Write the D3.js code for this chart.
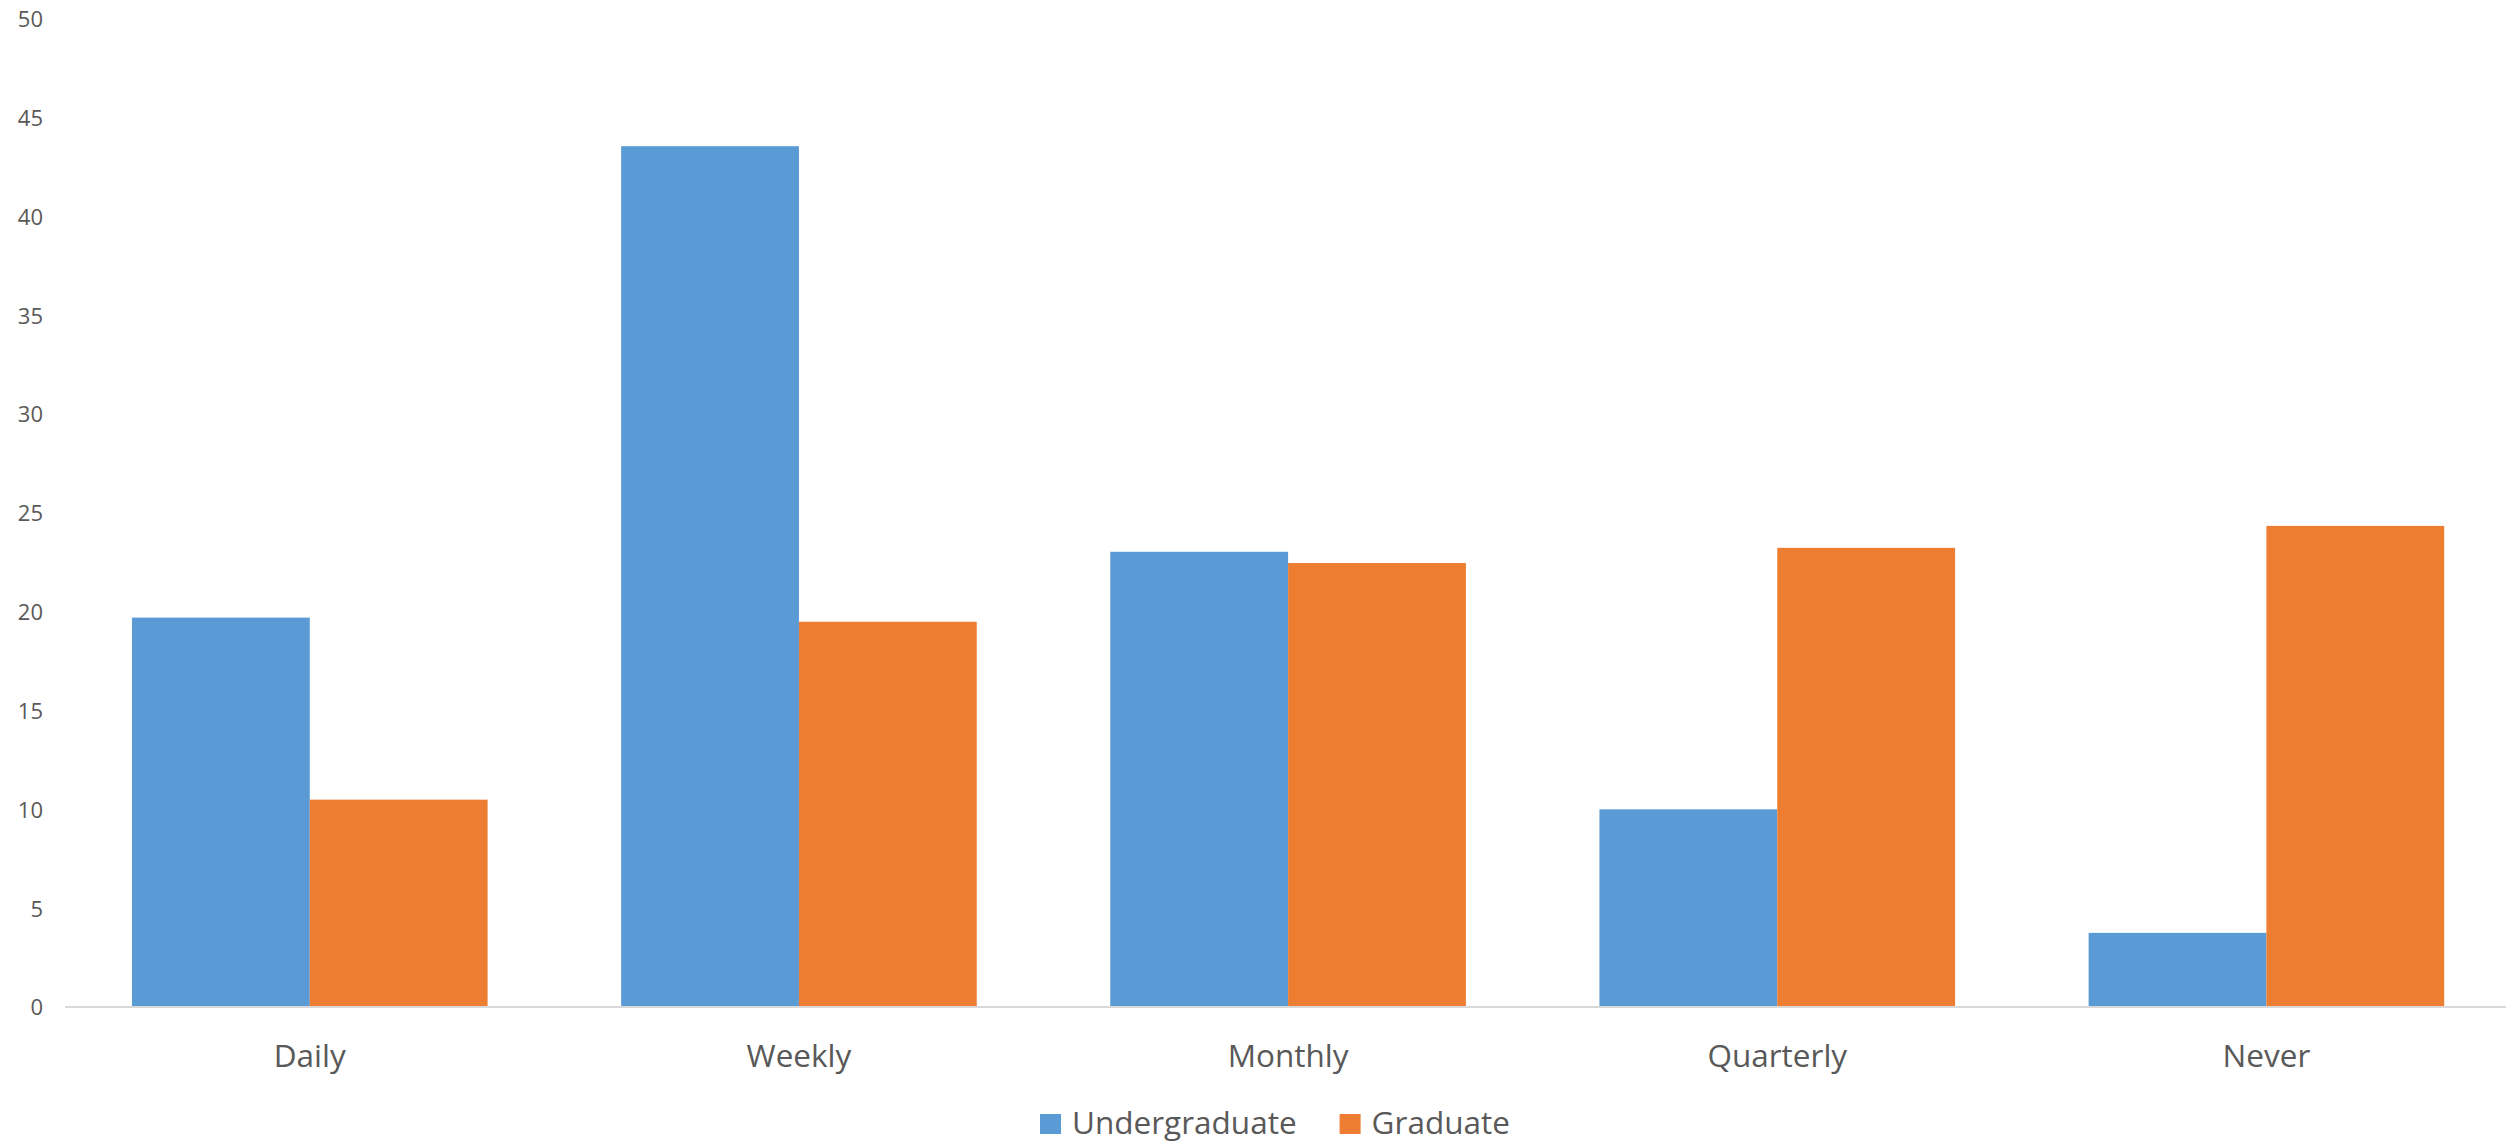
<!DOCTYPE html>
<html>
<head>
<meta charset="utf-8">
<script src="https://cdn.jsdelivr.net/npm/d3@7"></script>
<style>
  html, body { margin: 0; padding: 0; background: #ffffff; }
  svg { display: block; }
  text { font-family: "Open Sans", Lato, sans-serif; fill: #595959; }
</style>
</head>
<body>
<svg id="chart" width="2506" height="1142"></svg>
<script>
// Survey frequency by student level
const categories = ["Daily", "Weekly", "Monthly", "Quarterly", "Never"];
const seriesNames = ["Undergraduate", "Graduate"];
const undergraduate = [19.7, 43.55, 23.03, 10.0, 3.75];
const graduate = [10.49, 19.49, 22.46, 23.23, 24.34];
const yTicks = [0, 5, 10, 15, 20, 25, 30, 35, 40, 45, 50];
const colors = ["#5b9bd5", "#ed7d31"];

const seriesValues = [undergraduate, graduate];
const rows = categories.map((c, i) => ({
  category: c,
  values: seriesNames.map((s, j) => ({ series: s, value: seriesValues[j][i] }))
}));

const FONT = "'Open Sans', Lato, sans-serif";
const svg = d3.select("#chart");
const W = 2506;

const y = d3.scaleLinear().domain([0, 50]).range([1007, 18.7]);

const x0 = d3.scaleBand()
  .domain(categories)
  .range([65.2, 2511])
  .paddingInner(0.273)
  .paddingOuter(0.1365);

const x1 = d3.scaleBand()
  .domain(seriesNames)
  .range([0, x0.bandwidth()])
  .padding(0);

const color = d3.scaleOrdinal().domain(seriesNames).range(colors);

// Bars
const groups = svg.append("g")
  .selectAll("g")
  .data(rows)
  .join("g")
  .attr("transform", d => `translate(${x0(d.category)},0)`);

groups.selectAll("rect")
  .data(d => d.values)
  .join("rect")
  .attr("x", d => x1(d.series))
  .attr("width", x1.bandwidth())
  .attr("y", d => y(d.value))
  .attr("height", d => y(0) - y(d.value))
  .attr("fill", d => color(d.series));

// Baseline
svg.append("line")
  .attr("x1", 65).attr("x2", W)
  .attr("y1", y(0)).attr("y2", y(0))
  .attr("stroke", "#d9d9d9")
  .attr("stroke-width", 2);

// Y axis labels (no line, no ticks)
const yAxis = d3.axisLeft(y).tickValues(yTicks).tickSize(0).tickPadding(0);
const yg = svg.append("g")
  .attr("transform", "translate(43,0)")
  .call(yAxis);
yg.select(".domain").remove();
yg.selectAll("text")
  .attr("font-family", FONT)
  .attr("font-size", 22)
  .attr("fill", "#595959")
  .attr("dy", "0.36em");

// X axis category labels
const xAxis = d3.axisBottom(x0).tickSize(0).tickPadding(0);
const xg = svg.append("g")
  .attr("transform", `translate(0,${y(0)})`)
  .call(xAxis);
xg.select(".domain").remove();
xg.selectAll("text")
  .attr("font-family", FONT)
  .attr("font-size", 31.5)
  .attr("fill", "#595959")
  .attr("dy", null)
  .attr("y", 59.7);

// Legend
const legend = svg.append("g").attr("transform", "translate(1040,0)");
let lx = 0;
seriesNames.forEach((s, i) => {
  const item = legend.append("g").attr("transform", `translate(${lx},0)`);
  item.append("rect")
    .attr("x", 0).attr("y", 1114)
    .attr("width", 21).attr("height", 20)
    .attr("fill", color(s));
  const t = item.append("text")
    .attr("x", 32).attr("y", 1134.3)
    .attr("font-size", 31.5)
    .text(s);
  lx += 32 + t.node().getComputedTextLength() + 43;
});
</script>
</body>
</html>
